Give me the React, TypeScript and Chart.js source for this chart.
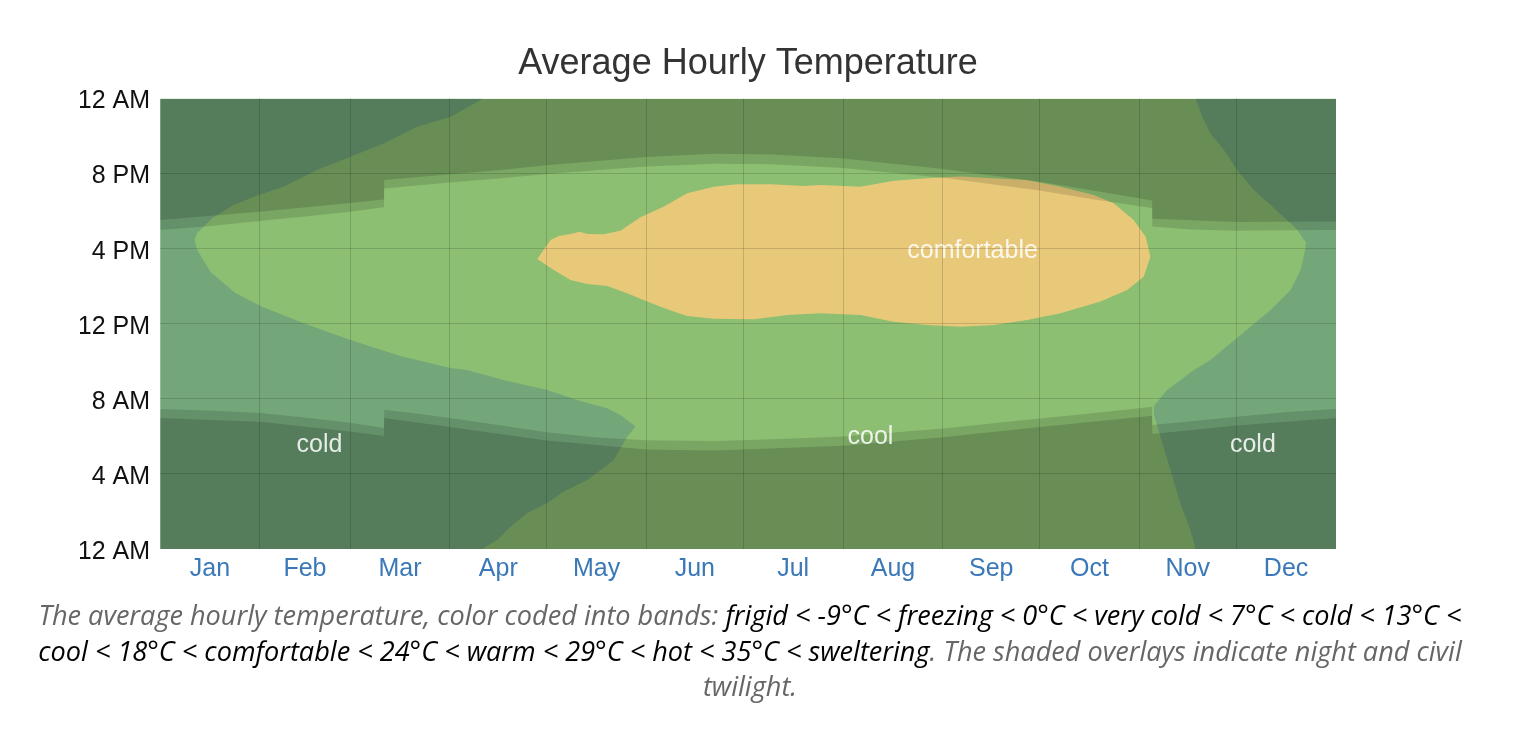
import React, { useEffect, useRef } from 'react';
import { Chart, registerables } from 'chart.js';

Chart.register(...registerables);

// ---------- axes ----------
const monthNames = ['Jan', 'Feb', 'Mar', 'Apr', 'May', 'Jun', 'Jul', 'Aug', 'Sep', 'Oct', 'Nov', 'Dec'];
const monthStarts = [0, 31, 59, 90, 120, 151, 181, 212, 243, 273, 304, 334, 365];
const hourTicks = [0, 4, 8, 12, 16, 20, 24];
const hourLabels = ['12 AM', '4 AM', '8 AM', '12 PM', '4 PM', '8 PM', '12 AM'];

// ---------- temperature bands: [day of year, hour] ----------
const coolArea: [number, number][] = [[0, 24], [365, 24]];

const coldLeftBottom: [number, number][] = [
  [0, 0], [100, 0], [104.7, 0.48], [108.8, 1.19], [114, 1.92], [120.2, 2.45], [125.2, 3.05],
  [132.6, 3.68], [137.6, 4.32], [140.8, 4.74], [145, 5.98], [147.6, 6.52],
];
const coldLeftLower: [number, number][] = [
  [0, 16.6], [10.5, 16.6], [11.6, 15.93], [15.7, 14.76], [23.4, 13.64], [31.2, 12.95], [43.6, 12.09],
  [59.1, 11.13], [74.6, 10.28], [90.2, 9.64], [95.3, 9.54], [106.6, 9.0], [120.2, 8.47],
  [129.5, 7.94], [138.8, 7.5], [142.9, 7.14], [147.6, 6.52],
];
const coldLeftUpper: [number, number][] = [
  [0, 16.4], [10.5, 16.4], [11.5, 16.82], [16.2, 17.62], [22.8, 18.33], [30.6, 18.86], [38.3, 19.3],
  [48.8, 20.19], [59.1, 20.9], [69.4, 21.6], [79.8, 22.5], [90.2, 23.03], [100.4, 24],
];

const coldRightBottom: [number, number][] = [
  [308.4, 7.2], [310.5, 5.98], [313.6, 4.21], [316.7, 2.43], [319.8, 1.01], [321.4, 0], [365, 0],
];
const coldRightLower: [number, number][] = [
  [308.4, 7.6], [312.6, 8.47], [320.9, 9.54], [326, 10.07], [335.4, 11.4], [344.7, 12.73],
  [350.9, 13.8], [354, 14.86], [355.5, 16.0], [355.7, 16.6], [365, 16.6],
];
const coldRightUpper: [number, number][] = [
  [321.4, 24], [323.5, 23.03], [326, 22.15], [330.2, 21.26], [334.3, 20.19], [339.5, 19.13],
  [344.7, 18.33], [349.8, 17.53], [353, 17.0], [355, 16.46], [355.7, 16.4], [365, 16.4],
];

const comfortLower: [number, number][] = [
  [117.1, 15.45], [122.2, 14.86], [127.4, 14.33], [132.6, 14.12], [138.8, 14.01], [145, 13.62],
  [151.2, 13.18], [157.4, 12.77], [163.6, 12.41], [171.9, 12.27], [184.3, 12.24], [194.7, 12.47],
  [205, 12.56], [217.4, 12.47], [227.7, 12.11], [238.1, 11.93], [248.4, 11.84], [258.8, 11.93],
  [269.1, 12.2], [279.5, 12.56], [291.9, 13.18], [300.2, 13.8], [305.3, 14.51], [307.4, 15.57],
];
const comfortUpper: [number, number][] = [
  [117.1, 15.45], [121.2, 16.46], [123.8, 16.68], [127.4, 16.78], [130.3, 16.9], [132.6, 16.78],
  [137.7, 16.77], [142.9, 16.96], [149.1, 17.67], [156.4, 18.24], [163.6, 18.95], [171.9, 19.3],
  [179.1, 19.43], [189.5, 19.43], [199.8, 19.34], [205, 19.39], [217.4, 19.3], [227.7, 19.62],
  [238.1, 19.75], [248.4, 19.84], [258.8, 19.75], [269.1, 19.66], [279.5, 19.3], [289.8, 18.86],
  [296, 18.42], [302.2, 17.53], [305.9, 16.64], [307.4, 15.57],
];

// ---------- sun: [day of year, hour] ----------
const sunrise: [number, number][] = [
  [0, 7.46], [15, 7.38], [31, 7.24], [45, 7.0], [59, 6.72], [69.5, 6.45], [69.6, 7.42], [80, 7.2],
  [90, 6.98], [105, 6.6], [120, 6.22], [135, 5.95], [151, 5.8], [172, 5.75], [190, 5.85],
  [212, 6.0], [243, 6.42], [273, 6.95], [290, 7.25], [307.9, 7.58], [308, 6.6], [320, 6.8],
  [334, 7.05], [350, 7.3], [365, 7.46],
];
const dawn: [number, number][] = [
  [0, 6.98], [31, 6.78], [59, 6.26], [69.5, 6.02], [69.6, 6.98], [90, 6.5], [120, 5.78],
  [151, 5.3], [172, 5.25], [212, 5.5], [243, 5.95], [273, 6.5], [307.9, 7.1], [308, 6.12],
  [334, 6.58], [365, 6.98],
];
const sunset: [number, number][] = [
  [0, 17.0], [15, 17.2], [31, 17.47], [45, 17.72], [59, 17.97], [69.5, 18.2], [69.6, 19.2],
  [90, 19.52], [106, 19.75], [120, 19.98], [151, 20.38], [172, 20.52], [190, 20.5], [212, 20.3],
  [243, 19.78], [273, 19.1], [290, 18.62], [307.9, 18.17], [308, 17.18], [320, 17.02],
  [334, 16.95], [350, 16.98], [365, 17.0],
];
const dusk: [number, number][] = [
  [0, 17.53], [31, 17.97], [59, 18.43], [69.5, 18.62], [69.6, 19.66], [90, 19.96], [106, 20.19],
  [120, 20.45], [151, 20.88], [172, 21.05], [190, 21.02], [212, 20.8], [243, 20.25], [273, 19.57],
  [290, 19.08], [307.9, 18.57], [308, 17.6], [334, 17.42], [365, 17.45],
];

// ---------- band labels ----------
const bandLabels = ['cold', 'cool', 'cold', 'comfortable'];
const bandLabelDays = [49.5, 220.5, 339.2, 252.2];
const bandLabelHours = [5.54, 5.97, 5.54, 15.85];

const COOL = '#8dbf72';
const COLD = '#73a77a';
const COMF = '#e8c97a';
const TWILIGHT = 'rgba(0,0,0,0.13)';
const NIGHT = 'rgba(0,0,0,0.14)';
const GRID = 'rgba(0,0,0,0.15)';
const EDGE = 'rgba(255,255,255,0.25)';
const FONT = '"Liberation Sans", Arial, Helvetica, sans-serif';

const pts = (arr: [number, number][]) => arr.map(([x, y]) => ({ x, y }));

function area(label: string, data: [number, number][], fill: any, color: string, order: number) {
  return {
    label,
    data: pts(data),
    fill,
    backgroundColor: color,
    borderColor: 'rgba(0,0,0,0)',
    borderWidth: 0,
    pointRadius: 0,
    pointHoverRadius: 0,
    tension: 0,
    order,
  };
}

const bandLabelPlugin = {
  id: 'bandLabels',
  afterDatasetsDraw(chart: any) {
    const { ctx, scales } = chart;
    const xs = scales.x;
    const ys = scales.y;
    ctx.save();
    ctx.font = `25px ${FONT}`;
    ctx.fillStyle = 'rgba(255,255,255,0.86)';
    ctx.textAlign = 'center';
    ctx.textBaseline = 'middle';
    bandLabels.forEach((t, i) => {
      ctx.fillText(t, xs.getPixelForValue(bandLabelDays[i]), ys.getPixelForValue(bandLabelHours[i]));
    });
    ctx.restore();
  },
};

const ChartView: React.FC = () => {
  const ref = useRef<HTMLCanvasElement | null>(null);
  useEffect(() => {
    if (!ref.current) return;
    const mids = monthStarts.slice(0, 12).map((s, i) => (s + monthStarts[i + 1]) / 2);
    const xTicks = [...monthStarts, ...mids].sort((a, b) => a - b);
    const chart = new Chart(ref.current, {
      type: 'line',
      data: {
        datasets: [
          area('cool', coolArea, 'start', COOL, 10),
          area('coldLeftBottom', coldLeftBottom, false, COLD, 9),
          area('coldLeftLower', coldLeftLower, '-1', COLD, 9),
          area('coldLeftUpper', coldLeftUpper, 'end', COLD, 9),
          area('coldRightBottom', coldRightBottom, false, COLD, 9),
          area('coldRightLower', coldRightLower, '-1', COLD, 9),
          area('coldRightUpper', coldRightUpper, 'end', COLD, 9),
          area('comfortLower', comfortLower, false, COMF, 8),
          area('comfortUpper', comfortUpper, '-1', COMF, 8),
          area('sunrise', sunrise, 'start', TWILIGHT, 5),
          area('dawn', dawn, 'start', NIGHT, 4),
          area('sunset', sunset, 'end', TWILIGHT, 5),
          area('dusk', dusk, 'end', NIGHT, 4),
        ] as any,
      },
      options: {
        responsive: false,
        animation: false,
        events: [],
        layout: { padding: { left: 72, right: 156, top: 0, bottom: 8 } },
        plugins: {
          legend: { display: false },
          tooltip: { enabled: false },
          title: {
            display: true,
            text: 'Average Hourly Temperature',
            fullSize: false,
            color: '#333',
            font: { family: FONT, size: 36, weight: 'normal' },
            padding: { top: 34.5, bottom: 12.8 },
          },
        },
        scales: {
          x: {
            type: 'linear',
            min: 0,
            max: 365,
            afterBuildTicks: (s: any) => {
              s.ticks = xTicks.map((v) => ({ value: v }));
            },
            afterFit: (s: any) => {
              s.height = 40;
            },
            border: { display: false },
            grid: {
              z: 1,
              drawTicks: false,
              color: (c: any) => {
                const v = c.tick ? c.tick.value : -1;
                if (v === 0 || v === 365) return EDGE;
                return monthStarts.includes(v) ? GRID : 'rgba(0,0,0,0)';
              },
            },
            ticks: {
              autoSkip: false,
              maxRotation: 0,
              minRotation: 0,
              padding: 5,
              color: '#3a78b8',
              font: { family: FONT, size: 25 },
              callback: (v: any) => {
                const i = mids.indexOf(Number(v));
                return i >= 0 ? monthNames[i] : '';
              },
            },
          },
          y: {
            type: 'linear',
            min: 0,
            max: 24,
            afterBuildTicks: (s: any) => {
              s.ticks = hourTicks.map((v) => ({ value: v }));
            },
            afterFit: (s: any) => {
              s.width = 80;
            },
            border: { display: false },
            grid: {
              z: 1,
              drawTicks: false,
              color: (c: any) => {
                const v = c.tick ? c.tick.value : -1;
                return v === 0 || v === 24 ? EDGE : GRID;
              },
            },
            ticks: {
              padding: 10,
              labelOffset: 3,
              color: '#111',
              font: { family: FONT, size: 25 },
              callback: (v: any) => {
                const i = hourTicks.indexOf(Number(v));
                return i >= 0 ? hourLabels[i] : '';
              },
            },
          },
        },
      } as any,
      plugins: [bandLabelPlugin],
    });
    return () => chart.destroy();
  }, []);
  return <canvas ref={ref} width={1484} height={589} style={{ display: 'block', width: 1484, height: 589 }} />;
};

export default function App() {
  return (
    <div style={{ width: 1484 }}>
      <ChartView />
      <div
        style={{
          width: 1484,
          boxSizing: 'border-box',
          padding: '0 14px',
          textAlign: 'center',
          fontFamily: '"Open Sans", "DejaVu Sans", sans-serif',
          fontStyle: 'italic',
          fontSize: 27.1,
          lineHeight: '35.5px',
          color: '#666',
        }}
      >
        The average hourly temperature, color coded into bands:{' '}
        <span style={{ color: '#000' }}>
          frigid &lt; -9°C &lt; freezing &lt; 0°C &lt; very cold &lt; 7°C &lt; cold &lt; 13°C &lt; cool &lt; 18°C &lt;
          comfortable &lt; 24°C &lt; warm &lt; 29°C &lt; hot &lt; 35°C &lt; sweltering
        </span>
        . The shaded overlays indicate night and civil twilight.
      </div>
    </div>
  );
}
